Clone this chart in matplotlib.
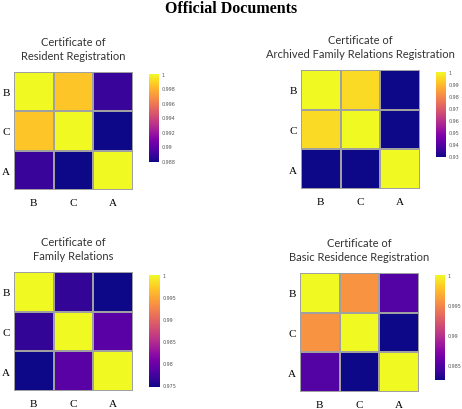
import matplotlib
matplotlib.use("Agg")
import matplotlib.pyplot as plt
import numpy as np

# order of rows / columns in every matrix
labels = ["B", "C", "A"]

titles = [
    "Certificate of\nResident Registration",
    "Certificate of\nArchived Family Relations Registration",
    "Certificate of\nFamily Relations",
    "Certificate of\nBasic Residence Registration",
]

resident = [
    [1.0, 0.9985, 0.9888],
    [0.9985, 1.0, 0.9878],
    [0.9888, 0.9878, 1.0],
]
archived = [
    [1.0, 0.9950, 0.9292],
    [0.9950, 1.0, 0.9290],
    [0.9292, 0.9290, 1.0],
]
family = [
    [1.0, 0.9762, 0.9745],
    [0.9762, 1.0, 0.9785],
    [0.9745, 0.9785, 1.0],
]
basic = [
    [1.0, 0.9956, 0.9850],
    [0.9956, 1.0, 0.9825],
    [0.9850, 0.9825, 1.0],
]

cbar_ticks = [
    [0.988, 0.99, 0.992, 0.994, 0.996, 0.998, 1.0],
    [0.93, 0.94, 0.95, 0.96, 0.97, 0.98, 0.99, 1.0],
    [0.975, 0.98, 0.985, 0.99, 0.995, 1.0],
    [0.985, 0.99, 0.995, 1.0],
]

matrices = [resident, archived, family, basic]

W, H = 462, 410
fig = plt.figure(figsize=(W / 100, H / 100), dpi=100)


def px(x0, y0, x1, y1):
    # pixel box (top-left origin) -> figure fraction rect
    return [x0 / W, 1 - y1 / H, (x1 - x0) / W, (y1 - y0) / H]


heat_boxes = [
    (14, 73, 133, 191),
    (301, 71, 420, 190),
    (14, 273, 133, 392),
    (300, 274, 419, 393),
]
cbar_boxes = [
    (149, 75, 159, 163),
    (436, 73, 446, 158),
    (149, 276, 160, 388),
    (435, 276, 445, 381),
]

serif = "Liberation Serif"
sans = "Lato"

for i, mat in enumerate(matrices):
    data = np.array(mat)
    ax = fig.add_axes(px(*heat_boxes[i]))
    mesh = ax.pcolormesh(data, cmap="plasma", vmin=data.min(), vmax=1.0,
                         edgecolors="#a0a0a0", linewidth=0.1)
    ax.set_xlim(0, 3)
    ax.set_ylim(3, 0)
    ax.set_xticks(np.arange(3) + 0.5)
    ax.set_yticks(np.arange(3) + 0.5)
    ax.set_xticklabels(labels, family=serif, fontsize=8)
    ax.set_yticklabels(labels, family=serif, fontsize=8)
    ax.tick_params(axis="x", length=0, pad=6)
    ax.tick_params(axis="y", length=0, pad=3)
    for s in ax.spines.values():
        s.set_visible(False)
    ax.set_title(titles[i], family=sans, fontsize=8, color="#333333",
                 pad=9, linespacing=1.35)

    cax = fig.add_axes(px(*cbar_boxes[i]))
    cb = fig.colorbar(mesh, cax=cax)
    cb.outline.set_visible(False)
    cb.set_ticks(cbar_ticks[i])
    cb.set_ticklabels([("1" if t == 1.0 else f"{t:g}") for t in cbar_ticks[i]])
    cax.tick_params(length=0, pad=2, labelsize=3.5, labelcolor="#555555")

fig.text(0.5, 1 - 9 / H, "Official Documents", ha="center", va="center",
         family=serif, fontweight="bold", fontsize=11.5)

fig.savefig("out.png", dpi=100)
